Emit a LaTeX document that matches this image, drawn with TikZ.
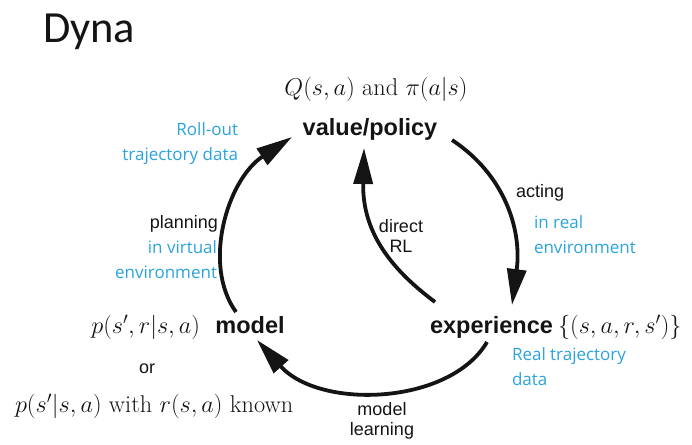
\documentclass[tikz,border=0pt]{standalone}
\usepackage{fix-cm}
\usepackage{fontspec}
\newfontfamily\helv{Liberation Sans}
\newfontfamily\segoe{Open Sans}
\newfontfamily\titlefont{Carlito}
\usetikzlibrary{arrows.meta}
\definecolor{lblblue}{RGB}{43,163,220}
\definecolor{ink}{RGB}{20,20,20}
\tikzset{
  every node/.style={inner sep=0pt, outer sep=0pt, text=ink},
  keynode/.style={font=\helv\bfseries\fontsize{23.5}{28}\selectfont, anchor=base},
  mathlbl/.style={font=\fontsize{24.3}{29}\selectfont},
  blacklbl/.style={font=\helv\fontsize{18}{20}\selectfont},
  bluelbl/.style={font=\segoe\fontsize{17}{24.5}\selectfont, text=lblblue},
  flow/.style={line width=3.8pt, draw=ink, -{Triangle[length=36pt,width=19pt]}}
}
\begin{document}
\begin{tikzpicture}[x=1pt,y=-1pt]
\useasboundingbox (0,0) rectangle (692,444);
\node[anchor=base west, font=\titlefont\fontsize{44.5}{50}\selectfont] (title) at (43,42) {Dyna};

\node[keynode] (vp) at (370,135) {value/policy};
\node[keynode] (model) at (250,333) {model};
\node[keynode] (exp) at (491.5,333) {experience};

\node[mathlbl, anchor=base] (qpi) at (376,95) {$Q(s,a)$ and $\pi(a|s)$};
\node[mathlbl, anchor=base east] (pm) at (200,333) {$p(s',r|s,a)$};
\node[blacklbl, anchor=base] (or) at (147,373) {or};
\node[mathlbl, anchor=base west] (pk) at (15,412) {$p(s'|s,a)$ with $r(s,a)$ known};
\node[mathlbl, anchor=base west] (tuple) at (558,333) {$\{(s,a,r,s')\}$};

\node[bluelbl, align=right, anchor=base east] (roll) at (238,160) {Roll-out\\trajectory data};
\node[blacklbl, anchor=base east] (plan) at (218,228) {planning};
\node[bluelbl, align=right, anchor=base east] (virt) at (217,278) {in virtual\\environment};
\node[blacklbl, anchor=base west] (act) at (516,197) {acting};
\node[bluelbl, align=left, anchor=base west] (real) at (534,253) {in real\\environment};
\node[blacklbl, align=center, anchor=base] (drl) at (401,252) {direct\\RL};
\node[bluelbl, align=left, anchor=base west] (rtd) at (512,385) {Real trajectory\\data};
\node[blacklbl, align=center, anchor=base] (ml) at (382,435) {model\\learning};

\coordinate (pS) at (236,312);
\coordinate (pE) at (292,137);
\coordinate (aS) at (452,140);
\coordinate (aE) at (512,305);
\coordinate (dS) at (435,302);
\coordinate (dE) at (364,148);
\coordinate (mS) at (487,342);
\coordinate (mE) at (257,340);

\draw[flow] (pS) .. controls (202,265) and (227,180) .. (pE);
\draw[flow] (aS) .. controls (505,175) and (522,230) .. (aE);
\draw[flow] (dS) .. controls (395,272) and (362,235) .. (dE);
\draw[flow] (mS) .. controls (450,405) and (320,410) .. (mE);
\end{tikzpicture}
\end{document}
